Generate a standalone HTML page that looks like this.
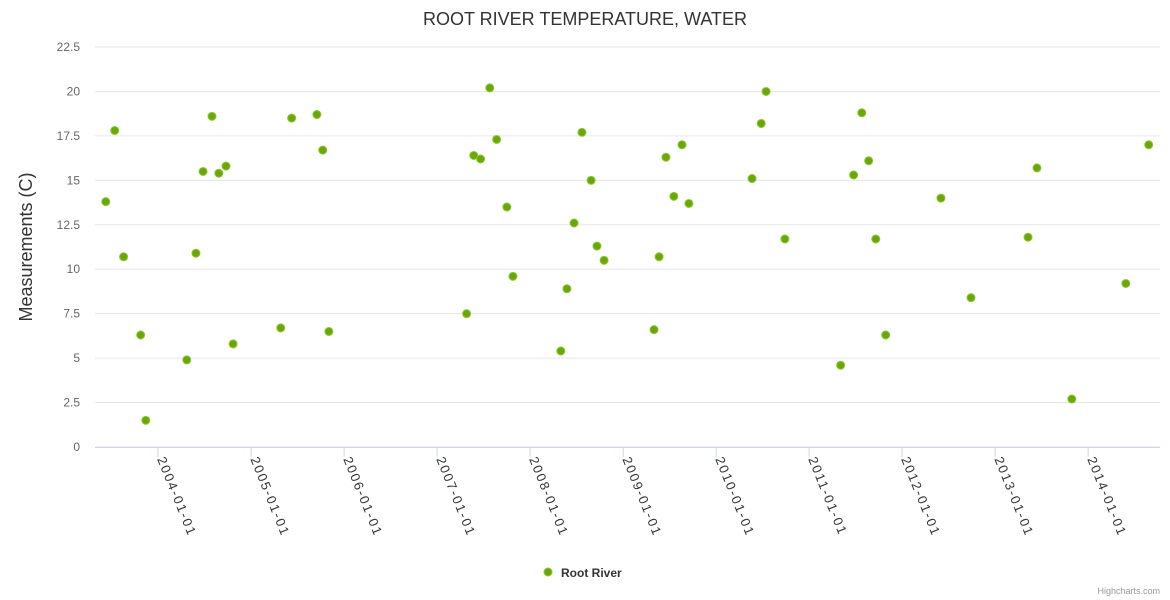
<!DOCTYPE html>
<html><head><meta charset="utf-8"><style>
body{margin:0;background:#fff;}
svg{font-family:"Liberation Sans",Arial,sans-serif;display:block}
</style></head><body>
<svg id="chart" width="1170" height="600">
<rect width="1170" height="600" fill="#fff"/>
<text x="585" y="25" text-anchor="middle" font-size="18" fill="#333">ROOT RIVER TEMPERATURE, WATER</text>
<text transform="translate(32,247) rotate(-90)" text-anchor="middle" font-size="18" fill="#333">Measurements (C)</text>
<g id="grid"></g><g id="xaxis"></g><g id="pts"></g>
<g>
<circle cx="548" cy="572" r="4" fill="#6aa800" stroke="#8cc63f" stroke-width="1"/>
<text x="561" y="577" font-size="12" font-weight="bold" fill="#333">Root River</text>
</g>
<text x="1160" y="594" text-anchor="end" font-size="9" fill="#999">Highcharts.com</text>
</svg>
<script>
const yTicks=[0,2.5,5,7.5,10,12.5,15,17.5,20,22.5];
const xTickYears=[2004,2005,2006,2007,2008,2009,2010,2011,2012,2013,2014];
const dates=["2003-06-10","2003-07-15","2003-08-19","2003-10-25","2003-11-14","2004-04-23","2004-05-29","2004-06-26","2004-07-31","2004-08-27","2004-09-24","2004-10-22","2005-04-27","2005-06-09","2005-09-16","2005-10-09","2005-11-02","2007-04-27","2007-05-25","2007-06-21","2007-07-27","2007-08-23","2007-10-02","2007-10-26","2008-05-01","2008-05-25","2008-06-22","2008-07-23","2008-08-28","2008-09-20","2008-10-18","2009-05-02","2009-05-22","2009-06-18","2009-07-19","2009-08-20","2009-09-16","2010-05-22","2010-06-27","2010-07-16","2010-09-28","2011-05-05","2011-06-25","2011-07-27","2011-08-23","2011-09-20","2011-10-29","2012-06-02","2012-09-28","2013-05-10","2013-06-14","2013-10-29","2014-05-29","2014-08-27"];
const values=[13.8,17.8,10.7,6.3,1.5,4.9,10.9,15.5,18.6,15.4,15.8,5.8,6.7,18.5,18.7,16.7,6.5,7.5,16.4,16.2,20.2,17.3,13.5,9.6,5.4,8.9,12.6,17.7,15.0,11.3,10.5,6.6,10.7,16.3,14.1,17.0,13.7,15.1,18.2,20.0,11.7,4.6,15.3,18.8,16.1,11.7,6.3,14.0,8.4,11.8,15.7,2.7,9.2,17.0];
const NS="http://www.w3.org/2000/svg";
const L=95,R=1160,T=47,B=447;
const t0=Date.UTC(2004,0,1),YEAR=365.25*86400000;
function xs(ms){return 158+(ms-t0)/YEAR*93;}
function ys(v){return B-(v/22.5)*(B-T);}
function mk(tag,a,p){const e=document.createElementNS(NS,tag);for(const k in a)e.setAttribute(k,a[k]);p.appendChild(e);return e;}
const g=document.getElementById('grid');
yTicks.forEach(v=>{
 const ln=mk('line',{x1:L,x2:R,y1:ys(v),y2:ys(v),stroke:'#e6e6e6','stroke-width':1},g);
 
 
 const t=mk('text',{x:80,y:ys(v)+4,'text-anchor':'end','font-size':12,fill:'#666'},g);
 t.textContent=String(v);
 
 
});
const xa=document.getElementById('xaxis');
const axl=mk('line',{x1:L,x2:R,y1:B+0.5,y2:B+0.5,stroke:'#ccd6eb','stroke-width':1},xa);


xTickYears.forEach(yr=>{
 const x=xs(Date.UTC(yr,0,1));
 const tk=mk('line',{x1:x,x2:x,y1:B,y2:B+10,stroke:'#ccd6eb'},xa);
 
 
 const t=mk('text',{transform:`translate(${x-1},${B+12}) rotate(68)`,'font-size':13,'letter-spacing':'1.8',fill:'#333'},xa);
 t.textContent=yr+'-01-01';
 
 
});
const pg=document.getElementById('pts');
dates.forEach((d,i)=>{
 const p=d.split('-').map(Number);
 const c=mk('circle',{cx:xs(Date.UTC(p[0],p[1]-1,p[2])),cy:ys(values[i]),r:4,fill:'#6aa800',stroke:'#8cc63f','stroke-width':1},pg);
 
 
});
</script>
</body></html>
